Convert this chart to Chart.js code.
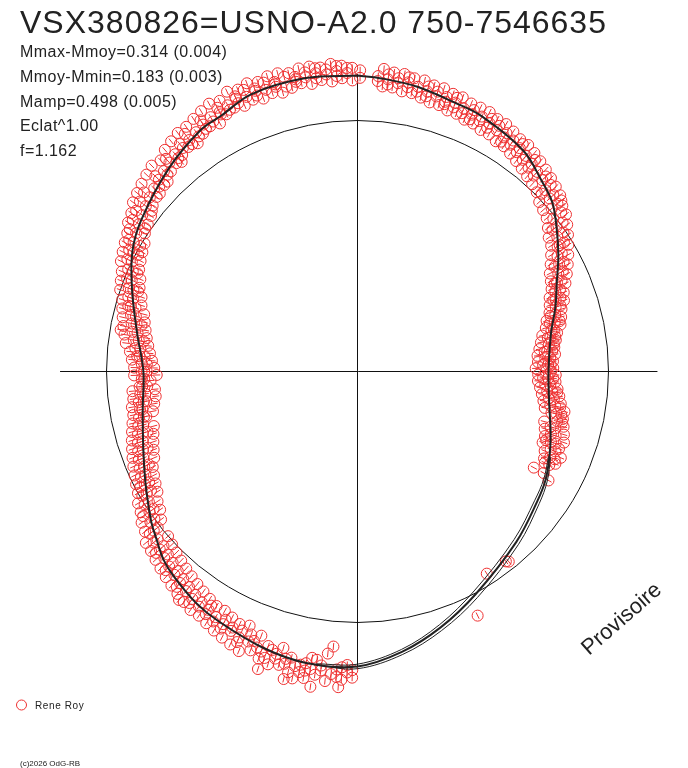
<!DOCTYPE html>
<html>
<head>
<meta charset="utf-8">
<script src="https://cdn.jsdelivr.net/npm/chart.js@4.4.1/dist/chart.umd.min.js"></script>
<style>
  html, body { margin: 0; padding: 0; background: #fff; }
  canvas { display: block; }
</style>
</head>
<body>
<canvas id="chart" width="688" height="768"></canvas>
<script>
// polar light curve: angle = phase (deg, clockwise from top), radius relative to mean (circle = 1)
const starName = "VSX380826=USNO-A2.0 750-7546635";
const statLines = [
  "Mmax-Mmoy=0.314 (0.004)",
  "Mmoy-Mmin=0.183 (0.003)",
  "Mamp=0.498 (0.005)",
  "Eclat^1.00",
  "f=1.162",
];
const observer = "Rene Roy";
const stampText = "(c)2026 OdG-RB";
const watermark = "Provisoire";

const refRadius = 1;
const axisH = [-1.185, 1.195];
const axisV = [-1.18, 1.185];

// fitted curve
const curveAngle = [0, 5, 12, 20, 26, 37, 44, 49, 54, 60, 66, 72, 79, 90, 99, 108, 114, 120, 126, 137,
  152, 162, 171, 180, 190, 199, 209, 215, 222, 226, 230, 234, 242, 250, 260, 270, 280, 290, 298, 305,
  317, 327, 332, 339, 350];
const curveRadius = [1.179, 1.171, 1.159, 1.139, 1.131, 1.100, 1.056, 1.028, 0.980, 0.924, 0.869, 0.829,
  0.785, 0.761, 0.773, 0.809, 0.837, 0.865, 0.884, 0.928, 1.004, 1.072, 1.131, 1.175, 1.179, 1.163,
  1.139, 1.124, 1.096, 1.076, 1.044, 1.016, 0.956, 0.908, 0.869, 0.853, 0.892, 0.956, 1.016, 1.052,
  1.104, 1.147, 1.155, 1.183, 1.187];

// extra passes of the fit on the empty lower-right part
const passAngle = [114, 120, 126, 137, 152, 162, 171, 180, 188];
const passInner = [0.833, 0.857, 0.873, 0.915, 0.990, 1.060, 1.121, 1.166, 1.176];
const passOuter = [0.842, 0.873, 0.895, 0.941, 1.019, 1.085, 1.142, 1.184, 1.182];

// observations: [phase deg, radius, radius, ...]
const obsByPhase = [
  [0.5, 1.20, 1.17],
  [4, 1.18, 1.16], [6, 1.17, 1.19, 1.15], [8, 1.16, 1.18], [10, 1.17, 1.15, 1.19],
  [12, 1.16, 1.14], [14, 1.15, 1.17, 1.13], [16, 1.14, 1.16], [18, 1.15, 1.13, 1.12],
  [20, 1.14, 1.16, 1.12], [22, 1.13, 1.11], [24, 1.14, 1.12, 1.10], [26, 1.13, 1.11],
  [28, 1.12, 1.14, 1.10], [30, 1.11, 1.13], [32, 1.12, 1.10, 1.08], [34, 1.11, 1.09],
  [36, 1.10, 1.12, 1.08], [38, 1.09, 1.07], [40, 1.08, 1.10, 1.06], [42, 1.07, 1.05],
  [44, 1.06, 1.08], [46, 1.04, 1.07, 1.02], [48, 1.03, 1.05], [50, 1.01, 1.04, 1.06],
  [52, 0.99, 1.03], [54, 0.98, 1.01, 0.96], [56, 0.96, 0.99], [58, 0.94, 0.97, 0.95],
  [60, 0.92, 0.94], [62, 0.91, 0.93, 0.89], [64, 0.89, 0.91], [66, 0.87, 0.89, 0.86],
  [68, 0.85, 0.87], [70, 0.84, 0.86, 0.83], [72, 0.83, 0.85],
  [74, 0.82, 0.80], [76, 0.81, 0.79, 0.83], [78, 0.79, 0.80], [80, 0.78, 0.80, 0.77],
  [82, 0.77, 0.79], [84, 0.76, 0.78, 0.75], [86, 0.77, 0.75], [88, 0.76, 0.74, 0.77],
  [90, 0.75, 0.77], [92, 0.76, 0.74, 0.78], [94, 0.77, 0.75], [96, 0.78, 0.76, 0.80],
  [98, 0.79, 0.77], [100, 0.80, 0.78, 0.82], [102, 0.81, 0.79, 0.83], [103, 0.84],
  [104, 0.82, 0.84], [106, 0.82, 0.80], [108, 0.81, 0.83], [110, 0.82, 0.84, 0.80],
  [112, 0.83, 0.85], [114, 0.84, 0.86], [116, 0.85, 0.83], [118.6, 0.80, 0.845], [119.7, 0.876],
  [141.5, 0.968], [142, 0.960], [147.4, 0.956], [153.8, 1.084],
  [181, 1.19, 1.22], [182, 1.17, 1.20], [183, 1.23, 1.18], [184, 1.22, 1.19], [185, 1.10, 1.21],
  [186, 1.13, 1.24], [187, 1.18, 1.20], [188, 1.22, 1.16], [189, 1.155, 1.20],
  [190, 1.21, 1.18, 1.24], [191, 1.19, 1.22], [192, 1.25, 1.20], [193, 1.17, 1.23],
  [194, 1.20, 1.18], [195, 1.14, 1.21], [196, 1.19, 1.17], [197, 1.22, 1.16], [198, 1.20, 1.15],
  [199, 1.18, 1.21], [200, 1.12, 1.17], [201, 1.15, 1.19], [202, 1.16, 1.13],
  [204, 1.13, 1.16, 1.18], [206, 1.135, 1.15], [208, 1.12, 1.16, 1.14],
  [210, 1.13, 1.15], [212, 1.12, 1.14, 1.10], [214, 1.13, 1.11], [216, 1.10, 1.12, 1.14],
  [218, 1.09, 1.11, 1.155], [220, 1.10, 1.08, 1.12], [222, 1.09, 1.07], [224, 1.08, 1.10, 1.06],
  [226, 1.07, 1.05], [228, 1.06, 1.04, 1.08], [230, 1.04, 1.06], [231, 1.085],
  [232, 1.03, 1.01, 1.05], [234, 1.02, 1.00], [236, 1.00, 0.98, 1.03], [238, 0.98, 1.00],
  [240, 0.97, 0.95, 0.99], [242, 0.96, 0.94, 0.98], [244, 0.94, 0.96], [246, 0.93, 0.95, 0.91],
  [248, 0.92, 0.94], [250, 0.91, 0.93, 0.89], [252, 0.90, 0.92], [254, 0.89, 0.91, 0.87],
  [256, 0.88, 0.90], [257, 0.92], [258, 0.87, 0.89, 0.86], [260, 0.87, 0.88],
  [262, 0.86, 0.88, 0.85], [264, 0.85, 0.87], [266, 0.86, 0.84, 0.87], [267.5, 0.825],
  [268, 0.85, 0.86], [270, 0.84, 0.86, 0.85], [272, 0.86, 0.84], [274, 0.87, 0.85, 0.88],
  [276, 0.87, 0.89], [278, 0.88, 0.90, 0.86], [280, 0.89, 0.91, 0.958], [282, 0.90, 0.92, 0.88],
  [284, 0.91, 0.93], [286, 0.92, 0.94, 0.95], [288, 0.94, 0.96], [290, 0.95, 0.97, 0.93],
  [292, 0.97, 0.99], [294, 0.98, 1.00, 0.96], [296, 1.00, 1.02], [298, 1.01, 1.03, 0.99],
  [300, 1.03, 1.05, 1.00], [302, 1.04, 1.07], [304, 1.05, 1.02, 1.08], [306, 1.06, 1.09],
  [308, 1.07, 1.04, 1.10], [310, 1.08, 1.11], [312, 1.09, 1.06], [314, 1.10, 1.12, 1.07],
  [316, 1.11, 1.09], [318, 1.12, 1.14], [320, 1.11, 1.13, 1.09], [322, 1.13, 1.15],
  [324, 1.14, 1.12, 1.17], [326, 1.15, 1.13], [328, 1.16, 1.18, 1.14], [330, 1.17, 1.15],
  [332, 1.16, 1.19, 1.17], [334, 1.18, 1.16], [336, 1.19, 1.17, 1.20], [338, 1.18, 1.21],
  [340, 1.19, 1.17, 1.20], [342, 1.18, 1.21], [344, 1.20, 1.18, 1.19], [346, 1.17, 1.21],
  [348, 1.19, 1.20, 1.18], [350, 1.21, 1.19], [352, 1.18, 1.20, 1.22], [354, 1.19, 1.21],
  [356, 1.20, 1.18, 1.22], [358, 1.19, 1.21],
];

// the wider-scattered observations
const obsByPhaseB = [
  [5, 1.14, 1.21], [7, 1.20, 1.14], [9, 1.13, 1.20], [11, 1.19, 1.13], [13, 1.12, 1.19],
  [15, 1.18, 1.11], [17, 1.11, 1.18], [19, 1.17, 1.10], [21, 1.10, 1.17], [23, 1.16, 1.09],
  [25, 1.16, 1.09], [27, 1.08, 1.16], [29, 1.15, 1.08], [31, 1.07, 1.15], [33, 1.14, 1.07],
  [35, 1.06, 1.13], [37, 1.13, 1.05], [39, 1.04, 1.12], [41, 1.11, 1.03], [43, 1.02, 1.10],
  [45, 1.09, 1.01], [47, 1.08, 0.99], [49, 1.07, 0.98], [51, 1.05, 0.97], [53, 1.04, 0.95],
  [55, 1.02, 0.93], [57, 1.00, 0.92], [59, 0.98, 0.90], [61, 0.96, 0.88], [63, 0.94, 0.86],
  [65, 0.92, 0.85], [67, 0.90, 0.84], [69, 0.88, 0.82], [71, 0.87, 0.81], [73, 0.85, 0.80],
  [75, 0.84, 0.78], [77, 0.83, 0.77], [79, 0.81, 0.75], [81, 0.80, 0.74], [83, 0.79, 0.73],
  [85, 0.79, 0.72], [87, 0.78, 0.72], [89, 0.78, 0.71], [91, 0.79, 0.72], [93, 0.79, 0.72],
  [95, 0.80, 0.73], [97, 0.81, 0.74], [99, 0.82, 0.75], [101, 0.84, 0.76], [105, 0.85, 0.77],
  [107, 0.86, 0.78], [109, 0.87, 0.79], [111, 0.86, 0.79], [113, 0.88, 0.81], [115, 0.87, 0.82],
  [183.5, 1.26], [188.5, 1.27], [193.5, 1.26], [198.5, 1.25], [203, 1.21, 1.10],
  [205, 1.20, 1.11], [207, 1.19, 1.10], [209, 1.18, 1.09],
  [211, 1.17, 1.09], [213, 1.16, 1.08], [215, 1.16, 1.07], [217, 1.15, 1.06], [219, 1.14, 1.05],
  [221, 1.13, 1.04], [223, 1.12, 1.03], [225, 1.11, 1.02], [227, 1.10, 1.01], [229, 1.09, 1.00],
  [233, 1.06, 0.98], [235, 1.05, 0.96], [237, 1.03, 0.95], [239, 1.02, 0.93], [241, 1.00, 0.92],
  [243, 0.99, 0.91], [245, 0.98, 0.90], [247, 0.97, 0.88], [249, 0.96, 0.87], [251, 0.95, 0.86],
  [253, 0.94, 0.85], [255, 0.93, 0.84], [259, 0.91, 0.83], [261, 0.91, 0.82], [263, 0.90, 0.81],
  [265, 0.90, 0.81], [269, 0.89, 0.80], [271, 0.89, 0.81], [273, 0.90, 0.82], [275, 0.91, 0.83],
  [277, 0.93, 0.84], [279, 0.94, 0.85], [281, 0.95, 0.86], [283, 0.96, 0.87], [285, 0.97, 0.88],
  [287, 0.98, 0.90], [289, 1.00, 0.91], [291, 1.01, 0.93], [293, 1.02, 0.94], [295, 1.04, 0.96],
  [297, 1.05, 0.97], [299, 1.06, 0.98],
  [301, 1.07, 0.99], [303, 1.09, 1.01], [305, 1.02, 1.10], [307, 1.12, 1.03], [309, 1.05, 1.13],
  [311, 1.14, 1.06], [313, 1.08, 1.15], [315, 1.16, 1.07], [317, 1.09, 1.15], [319, 1.17, 1.10],
  [321, 1.11, 1.18], [323, 1.19, 1.12], [325, 1.11, 1.19], [327, 1.20, 1.13], [329, 1.21, 1.14],
  [331, 1.13, 1.22], [333, 1.21, 1.15], [335, 1.23, 1.16], [337, 1.15, 1.22], [339, 1.23, 1.16],
  [341, 1.22, 1.15], [343, 1.16, 1.23], [345, 1.23, 1.15], [347, 1.16, 1.22], [349, 1.23, 1.17],
  [351, 1.16, 1.23], [353, 1.22, 1.17], [355, 1.23, 1.16], [357, 1.17, 1.22], [359, 1.21, 1.16],
];

// page layout
const W = 688, H = 768;
const CX = 357.5, CY = 371.5, PX_PER_UNIT = 251;
const RED = "#ee3030";
const INK = "#222";
const FONT = '"Liberation Sans", Arial, sans-serif';

function polar(deg, r) {
  const a = (deg * Math.PI) / 180;
  return { x: r * Math.sin(a), y: r * Math.cos(a), a: deg };
}

const curvePts = curveAngle.map((a, i) => polar(a, curveRadius[i]));
curvePts.push(curvePts[0]);
const innerPts = passAngle.map((a, i) => polar(a, passInner[i]));
const outerPts = passAngle.map((a, i) => polar(a, passOuter[i]));

const obsPts = [];
obsByPhase.concat(obsByPhaseB).forEach((row) => {
  row.slice(1).forEach((r) => obsPts.push(polar(row[0], r)));
});

const decor = {
  id: "decor",
  beforeDatasetsDraw(chart) {
    const { ctx, scales } = chart;
    const cx = scales.x.getPixelForValue(0);
    const cy = scales.y.getPixelForValue(0);
    const rad = scales.x.getPixelForValue(refRadius) - cx;
    ctx.save();
    ctx.strokeStyle = "#111";
    ctx.lineWidth = 1;
    ctx.beginPath();
    ctx.arc(cx, cy, rad, 0, Math.PI * 2);
    ctx.stroke();
    ctx.restore();
  },
  afterDraw(chart) {
    const { ctx } = chart;
    ctx.save();
    ctx.fillStyle = INK;
    ctx.textBaseline = "alphabetic";
    ctx.font = `32px ${FONT}`;
    ctx.letterSpacing = "1px";
    ctx.fillText(starName, 20, 33);

    ctx.font = `16px ${FONT}`;
    ctx.letterSpacing = "0.45px";
    statLines.forEach((t, i) => ctx.fillText(t, 20, 57 + i * 24.8));

    ctx.strokeStyle = RED;
    ctx.lineWidth = 1;
    ctx.beginPath();
    ctx.arc(21.5, 705, 5, 0, Math.PI * 2);
    ctx.stroke();
    ctx.font = `10px ${FONT}`;
    ctx.letterSpacing = "0.6px";
    ctx.fillText(observer, 35, 709);
    ctx.font = `8px ${FONT}`;
    ctx.letterSpacing = "0px";
    ctx.fillText(stampText, 20, 766);

    ctx.translate(589, 656);
    ctx.rotate((-41 * Math.PI) / 180);
    ctx.font = `22px ${FONT}`;
    ctx.fillText(watermark, 0, 0);
    ctx.restore();
  },
};

new Chart(document.getElementById("chart"), {
  type: "scatter",
  data: {
    datasets: [
      {
        data: curvePts,
        showLine: true,
        borderColor: INK,
        borderWidth: 2,
        tension: 0.35,
        pointRadius: 0,
        order: 0,
      },
      {
        data: innerPts,
        showLine: true,
        borderColor: INK,
        borderWidth: 1,
        tension: 0.35,
        pointRadius: 0,
        order: 1,
      },
      {
        data: outerPts,
        showLine: true,
        borderColor: INK,
        borderWidth: 1,
        tension: 0.35,
        pointRadius: 0,
        order: 1,
      },
      {
        data: obsPts,
        pointStyle: "line",
        pointRadius: 3.5,
        pointBorderColor: RED,
        pointBorderWidth: 1,
        pointRotation: (c) => (c.raw ? c.raw.a + 90 : 0),
        order: 4,
      },
      {
        data: obsPts,
        pointStyle: "circle",
        pointRadius: 5.5,
        pointBorderColor: RED,
        pointBackgroundColor: "rgba(0,0,0,0)",
        pointBorderWidth: 1,
        order: 5,
      },
      {
        data: [{ x: axisH[0], y: 0 }, { x: axisH[1], y: 0 }],
        showLine: true,
        borderColor: "#111",
        borderWidth: 1,
        pointRadius: 0,
        order: 9,
      },
      {
        data: [{ x: 0, y: axisV[0] }, { x: 0, y: axisV[1] }],
        showLine: true,
        borderColor: "#111",
        borderWidth: 1,
        pointRadius: 0,
        order: 9,
      },
    ],
  },
  options: {
    responsive: false,
    devicePixelRatio: 1,
    animation: false,
    events: [],
    layout: { padding: 0, autoPadding: false },
    scales: {
      x: { type: "linear", display: false, min: -CX / PX_PER_UNIT, max: (W - CX) / PX_PER_UNIT },
      y: { type: "linear", display: false, min: -(H - CY) / PX_PER_UNIT, max: CY / PX_PER_UNIT },
    },
    plugins: {
      legend: { display: false },
      tooltip: { enabled: false },
    },
  },
  plugins: [decor],
});
</script>
</body>
</html>
